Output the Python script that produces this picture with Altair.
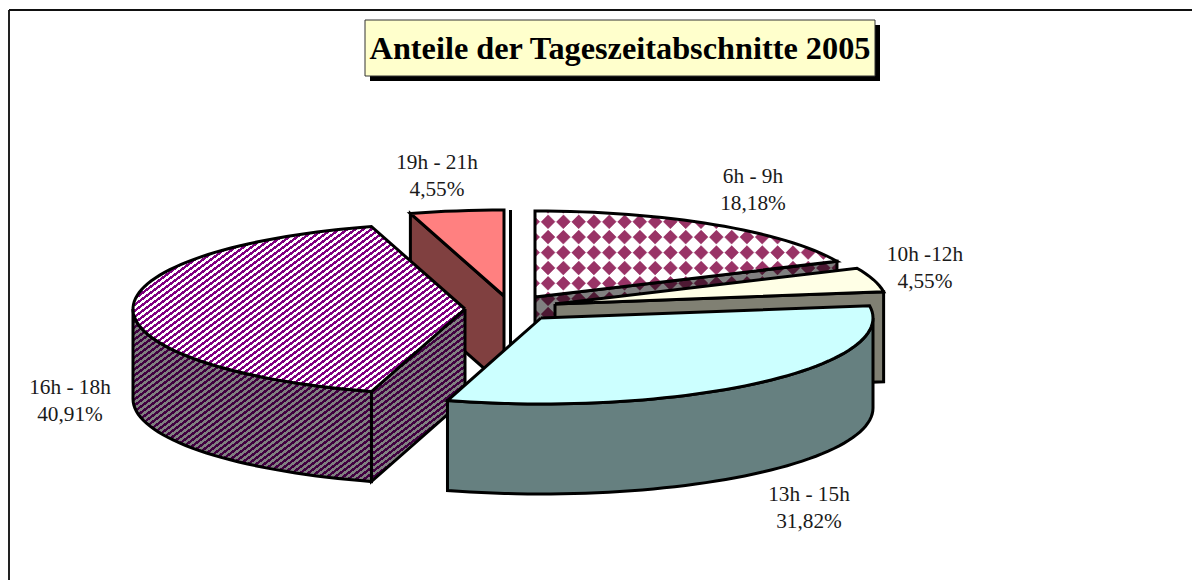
import math
import altair as alt
import pandas as pd

# ---- chart values
names = ["6h - 9h", "10h -12h", "13h - 15h", "16h - 18h", "19h - 21h"]
shares = [18.18, 4.55, 31.82, 40.91, 4.55]
title_text = "Anteile der Tageszeitabschnitte 2005"

# ---- layout of the exploded 3D pie (pixel space of the page)
apex_x = [535, 555, 541, 465, 504]
apex_y = [297, 304, 318, 309, 296]
label_x = [753, 925, 809, 70, 437]
label_y = [177, 255, 495, 388, 163]
RX, RY, DEPTH = 332, 86, 90
W, H = 1184, 572
BW = 3

x_enc = alt.X("x:Q", axis=None, scale=alt.Scale(domain=[8, 8 + W], nice=False, zero=False))
y_enc = alt.Y("y:Q", axis=None, scale=alt.Scale(domain=[8 + H, 8], nice=False, zero=False))

total = sum(shares)
angles = [0.0]
for s in shares:
    angles.append(angles[-1] + 360 * s / total)


def pt(i, a):
    r = math.radians(a)
    return (apex_x[i] + RX * math.sin(r), apex_y[i] - RY * math.cos(r))


def arc(i, a0, a1):
    n = max(2, int(abs(a1 - a0) / 2))
    return [pt(i, a0 + (a1 - a0) * k / n) for k in range(n + 1)]


def sector(i):
    return [(apex_x[i], apex_y[i])] + arc(i, angles[i], angles[i + 1])


def drop(pts):
    return [(x, y + DEPTH) for x, y in pts]


def stripes(pts, c1, c2, a=0.75, b=1.0, period=6.0):
    xs = [p[0] for p in pts]
    ys = [p[1] for p in pts]
    w, h = max(xs) - min(xs), max(ys) - min(ys)
    N = a * w + b * h
    tau = N / (w * w * a * a + h * h * b * b)
    n = int(N / period) + 1
    n_scale = n * period / N
    stops = []
    for k in range(n):
        stops += [
            {"offset": k / n, "color": c1},
            {"offset": (k + 0.5) / n, "color": c1},
            {"offset": (k + 0.5) / n, "color": c2},
            {"offset": (k + 1) / n, "color": c2},
        ]
    return {
        "gradient": "linear",
        "x1": 0, "y1": 0,
        "x2": w * a * tau * n_scale, "y2": h * b * tau * n_scale,
        "stops": stops,
    }


def poly(pts, fill, stroke="#000000", sw=BW):
    rows = [{"x": x, "y": y, "i": k} for k, (x, y) in enumerate(pts + [pts[0]])]
    kw = {"fill": fill, "strokeWidth": sw, "strokeJoin": "miter"}
    kw["stroke"] = stroke if stroke else "transparent"
    return alt.Chart(pd.DataFrame(rows)).mark_line(**kw).encode(x=x_enc, y=y_enc, order=alt.Order("i:Q"))


def clip(subject, region):
    area = sum(region[k][0] * region[(k + 1) % len(region)][1] - region[(k + 1) % len(region)][0] * region[k][1]
               for k in range(len(region)))
    sign = 1 if area > 0 else -1
    out = subject
    for k in range(len(region)):
        ax, ay = region[k]
        bx, by = region[(k + 1) % len(region)]
        inside = lambda p: sign * ((bx - ax) * (p[1] - ay) - (by - ay) * (p[0] - ax)) >= 0
        inp, out = out, []
        for j in range(len(inp)):
            p, q = inp[j], inp[(j + 1) % len(inp)]
            if inside(p):
                out.append(p)
            if inside(p) != inside(q):
                d1 = (bx - ax) * (p[1] - ay) - (by - ay) * (p[0] - ax)
                d2 = (bx - ax) * (q[1] - ay) - (by - ay) * (q[0] - ax)
                t = d1 / (d1 - d2)
                out.append((p[0] + t * (q[0] - p[0]), p[1] + t * (q[1] - p[1])))
        if not out:
            return []
    return out


def diamonds(region, color, x0=548.0, y0=221.7, px=15.3, py=15.4, r=7.0):
    rows = []
    gid = 0
    for ky in range(-1, 30):
        for kx in range(-1, 25):
            cx, cy = x0 + kx * px, y0 + ky * py
            d = [(cx, cy - r), (cx + r, cy), (cx, cy + r), (cx - r, cy)]
            c = clip(d, region)
            if len(c) >= 3:
                for k, (x, y) in enumerate(c):
                    rows.append({"x": x, "y": y, "i": k, "g": gid})
                gid += 1
    return alt.Chart(pd.DataFrame(rows)).mark_line(fill=color, stroke=color, strokeWidth=0.5).encode(
        x=x_enc, y=y_enc, detail="g:N", order=alt.Order("i:Q"))


def outline(pts, sw=BW):
    return poly(pts, "transparent", "#000000", sw)


layers = []

# frame
frame_x = pd.DataFrame({"x": [9], "y": [10], "y2": [8 + H]})
layers.append(alt.Chart(frame_x).mark_rule(color="#222222", strokeWidth=2).encode(
    x=x_enc, y=y_enc, y2="y2:Q"))
frame_y = pd.DataFrame({"x": [9], "x2": [8 + W], "y": [10]})
layers.append(alt.Chart(frame_y).mark_rule(color="#111111", strokeWidth=2).encode(
    x=x_enc, x2="x2:Q", y=y_enc))

# title box
box = pd.DataFrame({"x": [370], "x2": [880], "y": [25], "y2": [81]})
layers.append(alt.Chart(box).mark_rect(color="#000000").encode(x=x_enc, x2="x2:Q", y=y_enc, y2="y2:Q"))
box = pd.DataFrame({"x": [365], "x2": [875], "y": [20], "y2": [76]})
layers.append(alt.Chart(box).mark_rect(fill="#FFFFCC", stroke="#333333", strokeWidth=1).encode(
    x=x_enc, x2="x2:Q", y=y_enc, y2="y2:Q"))
layers.append(alt.Chart(pd.DataFrame({"x": [620], "y": [49], "t": [title_text]})).mark_text(
    font="Liberation Serif", fontWeight="bold", fontSize=32.3, color="#000000", align="center", baseline="middle"
).encode(x=x_enc, y=y_enc, text="t:N"))

# slice 5: 19h - 21h
i = 4
s = sector(i)
wall = [s[0], s[1], drop([s[1]])[0], drop([s[0]])[0]]
layers.append(poly(wall, "#804040"))
layers.append(poly(s, "#FF8080"))

# edge-on wall next to it
bar = pd.DataFrame({"x": [510.5], "y": [210], "y2": [400]})
layers.append(alt.Chart(bar).mark_rule(color="#000000", strokeWidth=3).encode(x=x_enc, y=y_enc, y2="y2:Q"))

# slice 1: 6h - 9h
i = 0
s = sector(i)
wall = [s[0], s[-1], drop([s[-1]])[0], drop([s[0]])[0]]
layers.append(poly(wall, "#808080", None, 0))
layers.append(diamonds(wall, "#4D1933"))
layers.append(outline(wall))
layers.append(poly(s, "#FFFFFF", None, 0))
layers.append(diamonds(s, "#993366"))
layers.append(outline(s))

# slice 4: 16h - 18h
i = 3
s = sector(i)
front = arc(i, angles[i], 270)
wall = front + drop(front)[::-1]
cut = [s[0], s[1], drop([s[1]])[0], drop([s[0]])[0]]
layers.append(poly(wall, stripes(wall, "#400040", "#808080")))
layers.append(poly(cut, stripes(cut, "#400040", "#808080")))
layers.append(poly(s, stripes(s, "#800080", "#FFFFFF")))

# slice 2: 10h - 12h
i = 1
s = sector(i)
wall = [s[0], s[-1], drop([s[-1]])[0], drop([s[0]])[0]]
layers.append(poly(wall, "#808073"))
layers.append(poly(s, "#FFFFE6"))

# slice 3: 13h - 15h
i = 2
s = sector(i)
front = arc(i, 90, angles[i + 1])
wall = front + drop(front)[::-1]
layers.append(poly(wall, "#668080"))
layers.append(poly(s, "#CCFFFF"))

# labels
rows = []
for n, v, lx, ly in zip(names, shares, label_x, label_y):
    rows.append({"x": lx, "y": ly, "t": n})
    rows.append({"x": lx, "y": ly + 26.5, "t": f"{v:.2f}".replace(".", ",") + "%"})
layers.append(alt.Chart(pd.DataFrame(rows)).mark_text(
    font="Liberation Serif", fontSize=21.3, color="#1a1a1a", align="center", baseline="middle"
).encode(x=x_enc, y=y_enc, text="t:N"))

chart = alt.layer(*layers).properties(
    width=W, height=H, padding=0, background="#FFFFFF",
    autosize=alt.AutoSizeParams(type="none"),
).configure_view(stroke=None)

chart.save("out.html", embed_options={"renderer": "svg", "actions": False})
